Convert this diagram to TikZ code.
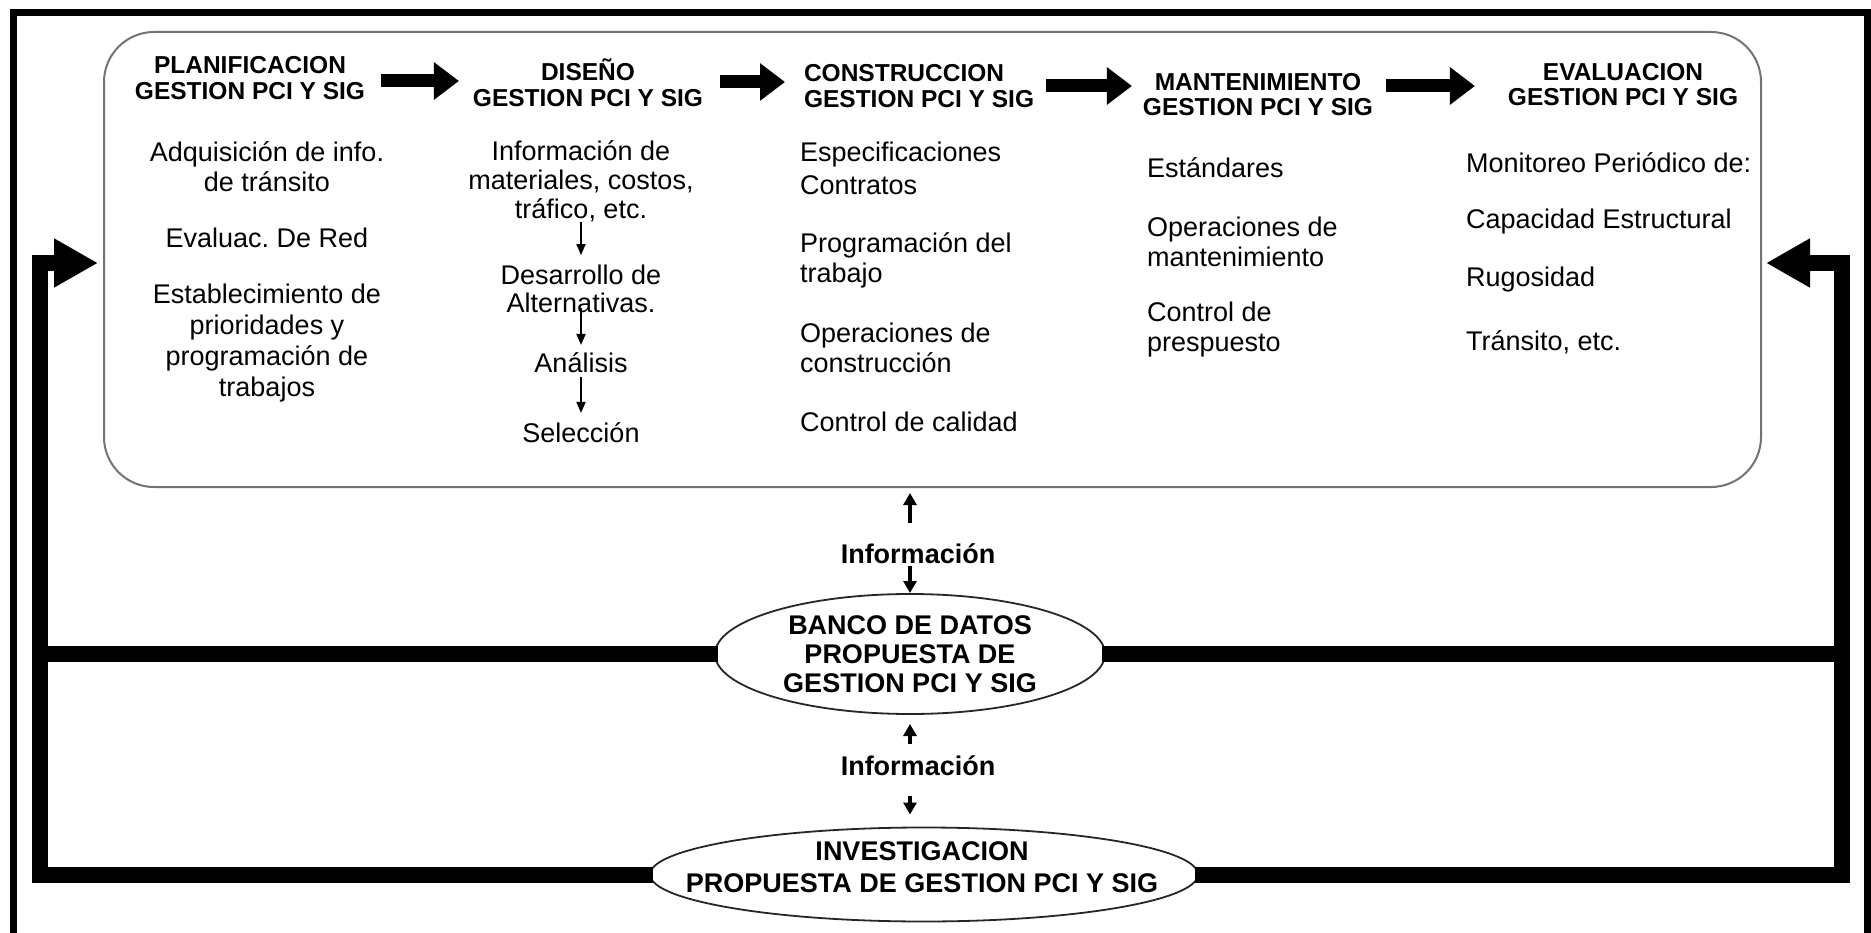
\documentclass[tikz,border=0pt]{standalone}
\usepackage{fontspec}
\setmainfont{Liberation Sans}
\usetikzlibrary{arrows.meta,shapes.geometric,calc}
\frenchspacing

\begin{document}
\begin{tikzpicture}[x=1pt,y=-1pt,
  every node/.style={inner sep=0pt, outer sep=0pt},
  body/.style={font=\fontsize{27pt}{30pt}\selectfont, align=center},
  bodyl/.style={font=\fontsize{27pt}{30pt}\selectfont, align=left, anchor=west},
  head/.style={font=\fontsize{24.5pt}{25.5pt}\selectfont\bfseries, align=center},
  infolabel/.style={font=\fontsize{27pt}{30pt}\selectfont\bfseries},
  oval/.style={draw=black!85, line width=1.8pt, ellipse, fill=white,
    font=\fontsize{27pt}{29pt}\selectfont\bfseries, align=center},
  ovaltext/.style={font=\fontsize{27pt}{32pt}\selectfont\bfseries, align=center},
  panelbox/.style={draw=black!55, line width=2pt, rounded corners=50pt},
  frame/.style={line width=7pt},
  feedback/.style={line width=16pt},
  bigtip/.style={-{Triangle[length=44pt,width=46pt]}},
  harrow/.style={line width=13pt, -{Triangle[length=25pt,width=36pt]}},
  thinarrow/.style={line width=1.8pt, -{Triangle[length=11pt,width=9pt]}},
  infoarrow/.style={line width=4.5pt, -{Triangle[length=12pt,width=13pt]}},
]
\useasboundingbox (0,0) rectangle (1871,933);

% open outer frame
\draw[frame] (13,933) -- (13,13) -- (1867,13) -- (1867,933);

% main panel
\node[panelbox, minimum width=1657pt, minimum height=455pt] (panel) at (932.5,259.5) {};

% stage headers
\node[head] (h1) at (250,78) {PLANIFICACION\\GESTION PCI Y SIG};
\node[head] (h2) at (588,82.5) {DISEÑO\\GESTION PCI Y SIG};
\node[head, align=left, anchor=west] (h3) at (804,86) {CONSTRUCCION\\GESTION PCI Y SIG};
\node[head] (h4) at (1258,94.5) {MANTENIMIENTO\\GESTION PCI Y SIG};
\node[head] (h5) at (1623,84.5) {EVALUACION\\GESTION PCI Y SIG};

% arrows between stages
\draw[harrow] ($(h1.east |- 0,81)+(16,0)$) -- ($(h2.west |- 0,81)+(-14,0)$);
\draw[harrow] ($(h2.east |- 0,82)+(17,0)$) -- ($(h3.west |- 0,82)+(-19,0)$);
\draw[harrow] ($(h3.east |- 0,86)+(12,0)$) -- ($(h4.west |- 0,86)+(-11,0)$);
\draw[harrow] ($(h4.east |- 0,86)+(13,0)$) -- ($(h5.west |- 0,86)+(-33,0)$);

% planning column
\node[body] (p1) at (267,166.5) {Adquisición de info.\\de tránsito};
\node[body] (p2) at (267,238) {Evaluac. De Red};
\node[body, font=\fontsize{27pt}{31pt}\selectfont] (p3) at (267,343.5)
  {Establecimiento de\\prioridades y\\programación de\\trabajos};

% design column
\node[body, font=\fontsize{27pt}{29pt}\selectfont] (d1) at (581,181)
  {Información de\\materiales, costos,\\tráfico, etc.};
\node[body, font=\fontsize{27pt}{28pt}\selectfont] (d2) at (581,289) {Desarrollo de\\Alternativas.};
\node[body] (d3) at (581,363) {Análisis};
\node[body] (d4) at (581,433) {Selección};
\draw[thinarrow, shorten >=10pt] (d1.south) -- (d2.north);
\draw[thinarrow, shorten <=-5pt, shorten >=8pt] (d2.south) -- (d3.north);
\draw[thinarrow, shorten <=4pt, shorten >=10pt] (d3.south) -- (d4.north);

% construction column
\node[bodyl, font=\fontsize{27pt}{33pt}\selectfont] (c1) at (800,168.5) {Especificaciones\\Contratos};
\node[bodyl] (c2) at (800,260) {Programación del\\trabajo};
\node[bodyl] (c3) at (800,348) {Operaciones de\\construcción};
\node[bodyl] (c4) at (800,422) {Control de calidad};

% maintenance column
\node[bodyl] (m1) at (1147,168) {Estándares};
\node[bodyl] (m2) at (1147,242) {Operaciones de\\mantenimiento};
\node[bodyl] (m3) at (1147,330) {Control de\\prespuesto};

% evaluation column
\node[bodyl] (e1) at (1466,163) {Monitoreo Periódico de:};
\node[bodyl] (e2) at (1466,222) {Capacidad Estructural};
\node[bodyl] (e3) at (1466,280) {Rugosidad};
\node[bodyl] (e4) at (1466,342) {Tránsito, etc.};

% feedback rails
\coordinate (lrail) at (40,0);
\coordinate (rrail) at (1842,0);
\coordinate (fbrow) at (0,263);

% data bank and research ellipses
\node[oval, minimum width=390pt, minimum height=120pt] (banco) at (910,654)
  {BANCO DE DATOS\\PROPUESTA DE\\GESTION PCI Y SIG};
\node[oval, minimum width=548pt, minimum height=94pt] (inv) at (924,874.5) {};
\node[ovaltext] (invtext) at (922,867) {INVESTIGACION\\PROPUESTA DE GESTION PCI Y SIG};

\draw[feedback, bigtip, shorten <=-3pt] (inv.west) -- (inv.west -| lrail) -- (lrail |- fbrow)
  -- ($(panel.west |- fbrow)+(-6,0)$);
\draw[feedback, shorten <=-3pt] (banco.west) -- (banco.west -| lrail);
\draw[feedback, bigtip, shorten <=-3pt] (inv.east) -- (inv.east -| rrail) -- (rrail |- fbrow)
  -- ($(panel.east |- fbrow)+(5,0)$);
\draw[feedback, shorten <=-3pt] (banco.east) -- (banco.east -| rrail);

% information exchange
\node[infolabel] (i1) at (918,554) {Información};
\node[infolabel] (i2) at (918,766) {Información};
\draw[infoarrow, shorten <=21pt, shorten >=6pt] (i1.north -| banco.north) -- (panel.south -| banco.north);
\draw[infoarrow, shorten <=2pt, shorten >=1pt] (i1.south -| banco.north) -- (banco.north);
\draw[infoarrow, shorten <=12pt, shorten >=10pt] (i2.north -| banco.south) -- (banco.south);
\draw[infoarrow, shorten <=20pt, shorten >=13pt] (i2.south -| banco.south) -- (inv.north -| banco.south);

\end{tikzpicture}
\end{document}
